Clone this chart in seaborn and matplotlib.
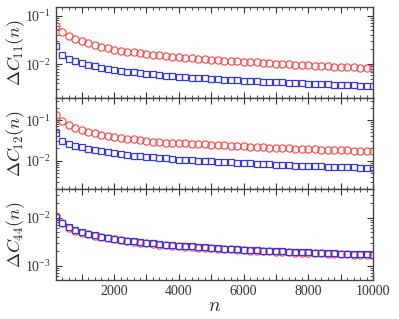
import numpy as np
import pandas as pd
import matplotlib
matplotlib.use("Agg")
import matplotlib.pyplot as plt
import matplotlib.ticker as mticker
import seaborn as sns

# n values (every 200 steps)
n_vals = list(range(200, 10001, 200))

c11_red = [0.0622, 0.0457, 0.0372, 0.0329, 0.0294, 0.0267, 0.0243, 0.0226, 0.0211, 0.0199,
           0.0190, 0.0181, 0.0174, 0.0168, 0.0161, 0.0156, 0.0151, 0.0146, 0.0142, 0.0138,
           0.0135, 0.0132, 0.0129, 0.0126, 0.0123, 0.0121, 0.0118, 0.0116, 0.0114, 0.0112,
           0.0110, 0.0108, 0.0106, 0.0104, 0.0102, 0.0101, 0.0099, 0.0098, 0.0096, 0.0095,
           0.0093, 0.0092, 0.0091, 0.0089, 0.0088, 0.0087, 0.0086, 0.0085, 0.0084, 0.0083]
c11_blue = [0.0232, 0.0152, 0.0128, 0.0115, 0.0105, 0.0097, 0.00895, 0.0084, 0.0080, 0.00766,
            0.00731, 0.00697, 0.00675, 0.00653, 0.00634, 0.00614, 0.00594, 0.00578, 0.00567, 0.00551,
            0.00541, 0.00526, 0.00517, 0.00508, 0.00499, 0.00490, 0.00481, 0.00473, 0.00465, 0.00457,
            0.00450, 0.00443, 0.00436, 0.00430, 0.00424, 0.00418, 0.00412, 0.00406, 0.00401, 0.00396,
            0.00391, 0.00386, 0.00381, 0.00376, 0.00372, 0.00367, 0.00363, 0.00359, 0.00355, 0.00351]

c12_red = [0.132, 0.095, 0.0743, 0.0636, 0.0567, 0.0517, 0.0469, 0.0435, 0.0402, 0.0379,
           0.0358, 0.0346, 0.0333, 0.0319, 0.0308, 0.0296, 0.0291, 0.0280, 0.0275, 0.0270,
           0.0266, 0.0261, 0.0256, 0.0251, 0.0246, 0.0242, 0.0237, 0.0233, 0.0229, 0.0225,
           0.0221, 0.0217, 0.0214, 0.0210, 0.0207, 0.0204, 0.0201, 0.0198, 0.0195, 0.0193,
           0.0190, 0.0188, 0.0186, 0.0184, 0.0182, 0.0180, 0.0178, 0.0176, 0.0175, 0.0173]
c12_blue = [0.0469, 0.0301, 0.0264, 0.0235, 0.0214, 0.0198, 0.0184, 0.0170, 0.0160, 0.0151,
            0.0146, 0.0138, 0.0133, 0.0127, 0.0123, 0.0120, 0.0116, 0.0114, 0.0110, 0.0107,
            0.0105, 0.0103, 0.0101, 0.0099, 0.0097, 0.0095, 0.0093, 0.0091, 0.0089, 0.0087,
            0.0086, 0.0084, 0.0083, 0.0081, 0.0080, 0.0079, 0.0078, 0.0076, 0.0075, 0.0074,
            0.0073, 0.0072, 0.0071, 0.0070, 0.0069, 0.0069, 0.0068, 0.0067, 0.0066, 0.0066]

c44_red = [0.0110, 0.00770, 0.00620, 0.00535, 0.00485, 0.00450, 0.00420, 0.00394, 0.00371, 0.00354,
           0.00338, 0.00325, 0.00312, 0.00301, 0.00292, 0.00283, 0.00275, 0.00268, 0.00262, 0.00256,
           0.00250, 0.00245, 0.00239, 0.00234, 0.00230, 0.00226, 0.00222, 0.00218, 0.00214, 0.00210,
           0.00207, 0.00204, 0.00201, 0.00198, 0.00196, 0.00193, 0.00191, 0.00188, 0.00186, 0.00184,
           0.00182, 0.00180, 0.00178, 0.00176, 0.00174, 0.00172, 0.00171, 0.00169, 0.00168, 0.00166]
c44_blue = [0.0106, 0.00793, 0.00641, 0.00554, 0.00502, 0.00465, 0.00434, 0.00407, 0.00383, 0.00365,
            0.00349, 0.00335, 0.00322, 0.00311, 0.00301, 0.00292, 0.00284, 0.00277, 0.00270, 0.00263,
            0.00257, 0.00252, 0.00246, 0.00241, 0.00236, 0.00232, 0.00228, 0.00224, 0.00220, 0.00216,
            0.00213, 0.00210, 0.00207, 0.00204, 0.00201, 0.00198, 0.00196, 0.00193, 0.00191, 0.00189,
            0.00187, 0.00185, 0.00183, 0.00181, 0.00179, 0.00177, 0.00175, 0.00173, 0.00172, 0.00170]

panels = [
    (r"$\Delta C_{11}(n)$", c11_red, c11_blue, (0.002, 0.15)),
    (r"$\Delta C_{12}(n)$", c12_red, c12_blue, (0.002, 0.35)),
    (r"$\Delta C_{44}(n)$", c44_red, c44_blue, (0.0005, 0.04)),
]

RED = "#ff4040"
BLUE = "#3535ee"

sns.set_style("ticks")
plt.rcParams["font.family"] = ["Liberation Serif", "DejaVu Serif"]
plt.rcParams["mathtext.fontset"] = "cm"
plt.rcParams["axes.edgecolor"] = "#444444"
plt.rcParams["xtick.color"] = "#333333"
plt.rcParams["ytick.color"] = "#333333"

fig, axes = plt.subplots(3, 1, figsize=(3.99, 3.19), dpi=100, sharex=True)
fig.subplots_adjust(left=0.14, right=0.935, top=0.978, bottom=0.122, hspace=0)

for ax, (label, red, blue, ylim) in zip(axes, panels):
    df = pd.DataFrame({"n": n_vals, "red": red, "blue": blue})
    sns.lineplot(data=df, x="n", y="red", ax=ax, marker="o", linestyle="",
                 markerfacecolor="none", markeredgecolor=RED, markeredgewidth=0.8,
                 markersize=5.2, color=RED)
    sns.lineplot(data=df, x="n", y="blue", ax=ax, marker="s", linestyle="",
                 markerfacecolor="none", markeredgecolor=BLUE, markeredgewidth=0.9,
                 markersize=4.6, color=BLUE)
    ax.set_yscale("log")
    ax.set_ylim(*ylim)
    ax.set_xlim(200, 10000)
    ax.set_ylabel(label, fontsize=13)
    ax.yaxis.set_label_coords(-0.09, 0.5)
    ax.set_xlabel("")
    ax.xaxis.set_major_locator(mticker.MultipleLocator(1000))
    ax.xaxis.set_minor_locator(mticker.MultipleLocator(200))
    ax.xaxis.set_major_formatter(mticker.FuncFormatter(
        lambda v, p: f"{int(v)}" if int(v) % 2000 == 0 else ""))
    ax.tick_params(which="both", direction="in", top=True, right=True, labelsize=10)
    ax.tick_params(which="major", length=4, width=0.8)
    ax.tick_params(which="minor", length=2, width=0.6)
    for s in ax.spines.values():
        s.set_linewidth(1.0)

axes[-1].set_xlabel(r"$n$", fontsize=14, labelpad=0)

fig.savefig("out.png", dpi=100)
